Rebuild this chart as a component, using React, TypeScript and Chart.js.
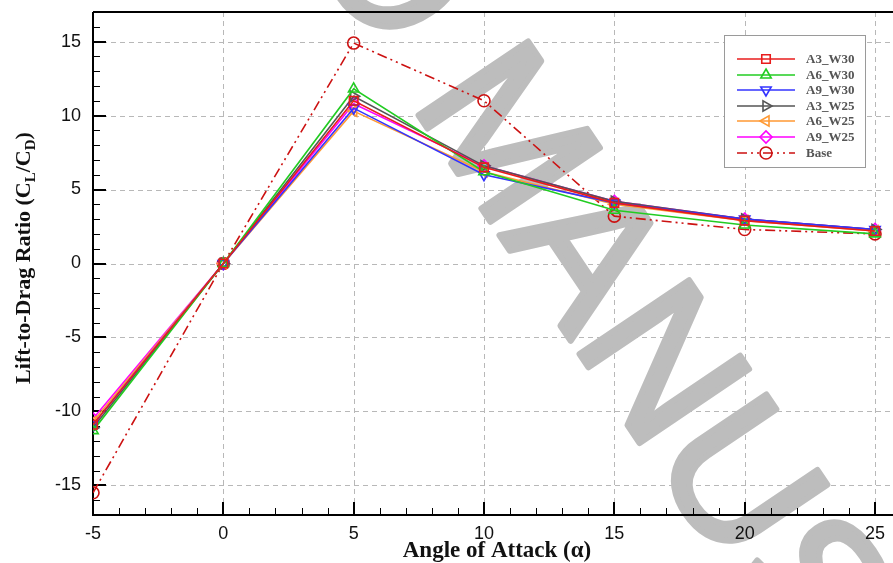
import React, { useEffect, useRef } from 'react';
import { Chart, registerables } from 'chart.js';
import { drawPoint } from 'chart.js/helpers';

Chart.register(...registerables);

const angles = [-5, 0, 5, 10, 15, 20, 25];
const a3W30 = [-10.9, 0, 11.0, 6.5, 4.1, 2.9, 2.2];
const a6W30 = [-11.3, 0, 11.8, 6.2, 3.6, 2.6, 2.0];
const a9W30 = [-10.9, 0, 10.5, 6.0, 4.1, 3.0, 2.3];
const a3W25 = [-11.1, 0, 11.3, 6.6, 4.2, 3.0, 2.3];
const a6W25 = [-10.7, 0, 10.3, 6.2, 4.0, 2.9, 2.2];
const a9W25 = [-10.5, 0, 10.8, 6.6, 4.2, 3.0, 2.3];
const baseLD = [-15.5, 0, 14.9, 11.0, 3.2, 2.3, 2.0];

const xTicks = [-5, 0, 5, 10, 15, 20, 25];
const yTicks = [-15, -10, -5, 0, 5, 10, 15];
const xMinor = [-4, -3, -2, -1, 1, 2, 3, 4, 6, 7, 8, 9, 11, 12, 13, 14, 16, 17, 18, 19, 21, 22, 23, 24];
const yMinor = [-17, -16, -14, -13, -12, -11, -9, -8, -7, -6, -4, -3, -2, -1, 1, 2, 3, 4, 6, 7, 8, 9, 11, 12, 13, 14, 16, 17];

const watermarkText = 'ACCEPTED MANUSCRIPT';

const series = [
  { label: 'A3_W30', data: a3W30, color: '#e81c1c', style: 'rect', rotation: 0, dash: [] as number[], radius: 6 },
  { label: 'A6_W30', data: a6W30, color: '#22cc22', style: 'triangle', rotation: 0, dash: [] as number[], radius: 6 },
  { label: 'A9_W30', data: a9W30, color: '#3333ff', style: 'triangle', rotation: 180, dash: [] as number[], radius: 6 },
  { label: 'A3_W25', data: a3W25, color: '#555555', style: 'triangle', rotation: 90, dash: [] as number[], radius: 6 },
  { label: 'A6_W25', data: a6W25, color: '#ff9933', style: 'triangle', rotation: 270, dash: [] as number[], radius: 6 },
  { label: 'A9_W25', data: a9W25, color: '#ff00ff', style: 'rectRot', rotation: 0, dash: [] as number[], radius: 6 },
  { label: 'Base', data: baseLD, color: '#cc1111', style: 'circle', rotation: 0, dash: [10, 4, 2, 4, 2, 4], radius: 6 },
];

const customPlugin = {
  id: 'custom',
  beforeDraw(chart: any) {
    const ctx = chart.ctx;
    ctx.save();
    ctx.fillStyle = '#ffffff';
    ctx.fillRect(0, 0, chart.width, chart.height);
    ctx.restore();
  },
  beforeDatasetsDraw(chart: any) {
    const ctx = chart.ctx;
    const { left, right, top, bottom } = chart.chartArea;
    const xs = chart.scales.x;
    const ys = chart.scales.y;
    ctx.save();
    // grid
    ctx.strokeStyle = '#b8b8b8';
    ctx.lineWidth = 1;
    ctx.setLineDash([5, 4]);
    xTicks.forEach((v) => {
      const x = Math.round(xs.getPixelForValue(v)) + 0.5;
      ctx.beginPath();
      ctx.moveTo(x, top);
      ctx.lineTo(x, bottom);
      ctx.stroke();
    });
    yTicks.forEach((v) => {
      const y = Math.round(ys.getPixelForValue(v)) + 0.5;
      ctx.beginPath();
      ctx.moveTo(left, y);
      ctx.lineTo(right, y);
      ctx.stroke();
    });
    ctx.setLineDash([]);

    // watermark
    ctx.save();
    ctx.fillStyle = '#bdbdbd';
    ctx.strokeStyle = '#bdbdbd';
    ctx.lineWidth = 6;
    ctx.lineJoin = 'round';
    const fs = 192;
    ctx.font = `${fs}px "Liberation Sans"`;
    const preW = ctx.measureText('ACCEPTED MAN').width;
    const uW = ctx.measureText('U').width;
    const th = (56 * Math.PI) / 180;
    ctx.rotate(th);
    ctx.textAlign = 'left';
    ctx.textBaseline = 'alphabetic';
    const tStart = 810 - preW - uW / 2;
    const sBase = 420 - 0.716 * fs;
    ctx.fillText(watermarkText, tStart, -sBase);
    ctx.strokeText(watermarkText, tStart, -sBase);
    ctx.restore();

    // ticks
    ctx.strokeStyle = '#000';
    ctx.lineWidth = 1;
    yMinor.forEach((v) => {
      const y = Math.round(ys.getPixelForValue(v)) + 0.5;
      ctx.beginPath();
      ctx.moveTo(left, y);
      ctx.lineTo(left + 7, y);
      ctx.stroke();
    });
    xMinor.forEach((v) => {
      const x = Math.round(xs.getPixelForValue(v)) + 0.5;
      ctx.beginPath();
      ctx.moveTo(x, bottom);
      ctx.lineTo(x, bottom - 7);
      ctx.stroke();
    });
    ctx.lineWidth = 2;
    yTicks.forEach((v) => {
      const y = Math.round(ys.getPixelForValue(v));
      ctx.beginPath();
      ctx.moveTo(left, y);
      ctx.lineTo(left + 13, y);
      ctx.stroke();
    });
    xTicks.forEach((v) => {
      const x = Math.round(xs.getPixelForValue(v));
      ctx.beginPath();
      ctx.moveTo(x, bottom);
      ctx.lineTo(x, bottom - 13);
      ctx.stroke();
    });
    // axes lines
    ctx.lineWidth = 2;
    ctx.beginPath();
    ctx.moveTo(left, top);
    ctx.lineTo(left, bottom);
    ctx.lineTo(right, bottom);
    ctx.stroke();
    ctx.beginPath();
    ctx.moveTo(left, top);
    ctx.lineTo(right, top);
    ctx.stroke();
    ctx.restore();
  },
  afterDatasetsDraw(chart: any) {
    const ctx = chart.ctx;
    // legend
    ctx.save();
    ctx.fillStyle = '#ffffff';
    ctx.fillRect(724, 35, 142, 133);
    ctx.strokeStyle = '#9a9a9a';
    ctx.lineWidth = 1;
    ctx.strokeRect(724.5, 35.5, 141, 132);
    const rowY = [59, 75, 90, 106, 121, 137, 153];
    series.forEach((s, i) => {
      const y = rowY[i];
      ctx.strokeStyle = s.color;
      ctx.lineWidth = 1.6;
      ctx.setLineDash(s.dash);
      ctx.beginPath();
      ctx.moveTo(737, y);
      ctx.lineTo(795, y);
      ctx.stroke();
      ctx.setLineDash([]);
      ctx.fillStyle = 'rgba(0,0,0,0)';
      drawPoint(ctx, { pointStyle: s.style, rotation: s.rotation, radius: s.radius, borderWidth: 1.6 } as any, 766, y);
      ctx.fillStyle = '#555555';
      ctx.font = 'bold 13px "Liberation Serif"';
      ctx.textAlign = 'left';
      ctx.textBaseline = 'middle';
      ctx.fillText(s.label, 806, y + 1);
    });
    ctx.restore();

    // axis titles
    ctx.save();
    ctx.fillStyle = '#111111';
    ctx.font = 'bold 23px "Liberation Serif"';
    ctx.textAlign = 'center';
    ctx.textBaseline = 'alphabetic';
    ctx.fillText('Angle of Attack (\u03b1)', 497, 557);

    const segs = [
      { t: 'Lift-to-Drag Ratio (C', sub: false },
      { t: 'L', sub: true },
      { t: '/C', sub: false },
      { t: 'D', sub: true },
      { t: ')', sub: false },
    ];
    const mainFont = 'bold 22px "Liberation Serif"';
    const subFont = 'bold 15px "Liberation Serif"';
    let total = 0;
    segs.forEach((s) => {
      ctx.font = s.sub ? subFont : mainFont;
      total += ctx.measureText(s.t).width;
    });
    ctx.translate(30, 258);
    ctx.rotate(-Math.PI / 2);
    ctx.textAlign = 'left';
    let x = -total / 2;
    segs.forEach((s) => {
      ctx.font = s.sub ? subFont : mainFont;
      ctx.fillText(s.t, x, s.sub ? 5 : 0);
      x += ctx.measureText(s.t).width;
    });
    ctx.restore();
  },
};

export default function App() {
  const ref = useRef<HTMLCanvasElement | null>(null);
  useEffect(() => {
    if (!ref.current) return;
    const chart = new Chart(ref.current, {
      type: 'line',
      data: {
        labels: angles,
        datasets: series.map((s) => ({
          label: s.label,
          data: s.data.map((v, i) => ({ x: angles[i], y: v })),
          borderColor: s.color,
          backgroundColor: 'rgba(0,0,0,0)',
          borderWidth: 1.6,
          borderDash: s.dash,
          pointStyle: s.style as any,
          pointRotation: s.rotation,
          pointRadius: s.radius,
          pointBorderWidth: 1.6,
          pointBorderColor: s.color,
          pointBackgroundColor: 'rgba(0,0,0,0)',
          tension: 0,
          fill: false,
        })),
      },
      options: {
        responsive: false,
        animation: false,
        devicePixelRatio: 1,
        layout: { autoPadding: false, padding: { top: 12, left: 0, right: 0, bottom: 0 } },
        plugins: { legend: { display: false }, tooltip: { enabled: false } },
        scales: {
          x: {
            type: 'linear',
            min: -5,
            max: 25.69,
            grid: { display: false, drawTicks: false },
            border: { display: false },
            afterBuildTicks: (axis: any) => {
              axis.ticks = xTicks.map((v) => ({ value: v }));
            },
            afterFit: (scale: any) => {
              scale.height = 48;
              scale.paddingLeft = 0;
              scale.paddingRight = 0;
              scale.paddingTop = 0;
              scale.paddingBottom = 0;
            },
            ticks: {
              z: 1,
              autoSkip: false,
              maxRotation: 0,
              padding: 8,
              color: '#111',
              font: { family: '"Liberation Sans"', size: 18 },
            },
          },
          y: {
            type: 'linear',
            min: -17,
            max: 17,
            grid: { display: false, drawTicks: false },
            border: { display: false },
            afterBuildTicks: (axis: any) => {
              axis.ticks = yTicks.map((v) => ({ value: v }));
            },
            afterFit: (scale: any) => {
              scale.width = 93;
              scale.paddingLeft = 0;
              scale.paddingRight = 0;
              scale.paddingTop = 0;
              scale.paddingBottom = 0;
            },
            ticks: {
              z: 1,
              autoSkip: false,
              padding: 12,
              color: '#111',
              font: { family: '"Liberation Sans"', size: 18 },
            },
          },
        },
      },
      plugins: [customPlugin],
    });
    return () => chart.destroy();
  }, []);
  return (
    <div style={{ position: 'fixed', left: 0, top: 0, width: 893, height: 563 }}>
      <canvas ref={ref} width={893} height={563} style={{ width: 893, height: 563, display: 'block' }} />
    </div>
  );
}
